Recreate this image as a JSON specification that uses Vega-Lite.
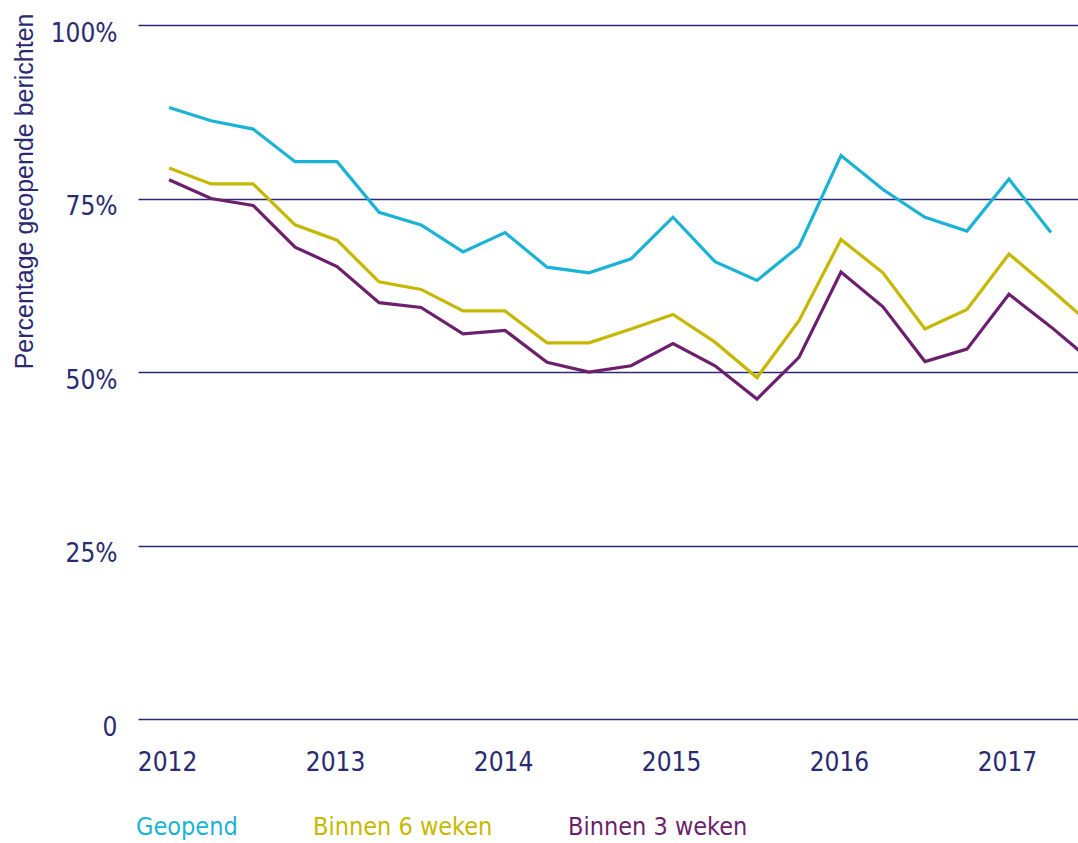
{
  "$schema": "https://vega.github.io/schema/vega-lite/v6.json",
  "width": 940,
  "height": 694,
  "autosize": {"type": "none"},
  "padding": {"left": 138, "top": 25, "right": 0, "bottom": 124},
  "background": "white",
  "config": {"view": {"stroke": null}},
  "data": {
    "values": [
      {"t": 2012.00, "Geopend": 88.1, "Binnen 6 weken": 79.4, "Binnen 3 weken": 77.7},
      {"t": 2012.25, "Geopend": 86.2, "Binnen 6 weken": 77.1, "Binnen 3 weken": 75.0},
      {"t": 2012.50, "Geopend": 85.0, "Binnen 6 weken": 77.1, "Binnen 3 weken": 74.0},
      {"t": 2012.75, "Geopend": 80.3, "Binnen 6 weken": 71.2, "Binnen 3 weken": 68.0},
      {"t": 2013.00, "Geopend": 80.3, "Binnen 6 weken": 69.0, "Binnen 3 weken": 65.2},
      {"t": 2013.25, "Geopend": 73.0, "Binnen 6 weken": 63.0, "Binnen 3 weken": 60.0},
      {"t": 2013.50, "Geopend": 71.2, "Binnen 6 weken": 61.9, "Binnen 3 weken": 59.3},
      {"t": 2013.75, "Geopend": 67.3, "Binnen 6 weken": 58.8, "Binnen 3 weken": 55.5},
      {"t": 2014.00, "Geopend": 70.1, "Binnen 6 weken": 58.8, "Binnen 3 weken": 56.0},
      {"t": 2014.25, "Geopend": 65.1, "Binnen 6 weken": 54.2, "Binnen 3 weken": 51.4},
      {"t": 2014.50, "Geopend": 64.3, "Binnen 6 weken": 54.2, "Binnen 3 weken": 50.0},
      {"t": 2014.75, "Geopend": 66.3, "Binnen 6 weken": 56.2, "Binnen 3 weken": 50.9},
      {"t": 2015.00, "Geopend": 72.3, "Binnen 6 weken": 58.3, "Binnen 3 weken": 54.1},
      {"t": 2015.25, "Geopend": 65.9, "Binnen 6 weken": 54.3, "Binnen 3 weken": 50.9},
      {"t": 2015.50, "Geopend": 63.2, "Binnen 6 weken": 49.2, "Binnen 3 weken": 46.1},
      {"t": 2015.75, "Geopend": 68.1, "Binnen 6 weken": 57.4, "Binnen 3 weken": 52.1},
      {"t": 2016.00, "Geopend": 81.2, "Binnen 6 weken": 69.1, "Binnen 3 weken": 64.4},
      {"t": 2016.25, "Geopend": 76.3, "Binnen 6 weken": 64.3, "Binnen 3 weken": 59.4},
      {"t": 2016.50, "Geopend": 72.3, "Binnen 6 weken": 56.2, "Binnen 3 weken": 51.5},
      {"t": 2016.75, "Geopend": 70.3, "Binnen 6 weken": 59.0, "Binnen 3 weken": 53.3},
      {"t": 2017.00, "Geopend": 77.8, "Binnen 6 weken": 67.0, "Binnen 3 weken": 61.2},
      {"t": 2017.25, "Geopend": 70.1, "Binnen 6 weken": 61.9, "Binnen 3 weken": 56.5},
      {"t": 2017.50, "Geopend": null, "Binnen 6 weken": 56.6, "Binnen 3 weken": 51.4}
    ]
  },
  "transform": [
    {"fold": ["Geopend", "Binnen 6 weken", "Binnen 3 weken"], "as": ["serie", "waarde"]}
  ],
  "mark": {"type": "line", "strokeWidth": 3.2, "clip": true, "strokeJoin": "miter"},
  "encoding": {
    "x": {
      "field": "t",
      "type": "quantitative",
      "scale": {"domain": [2011.815, 2017.411], "nice": false, "zero": false},
      "axis": {
        "title": null,
        "values": [2012, 2013, 2014, 2015, 2016, 2017],
        "format": "d",
        "grid": false,
        "domain": false,
        "ticks": false,
        "labelPadding": 30,
        "labelOffset": -2,
        "labelFont": "DejaVu Sans Condensed, Lato",
        "labelFontSize": 26,
        "labelColor": "#2a2a72"
      }
    },
    "y": {
      "field": "waarde",
      "type": "quantitative",
      "scale": {"domain": [0, 100], "nice": false},
      "axis": {
        "title": "Percentage geopende berichten",
        "values": [0, 25, 50, 75, 100],
        "labelExpr": "datum.value == 0 ? '0' : datum.value + '%'",
        "domain": false,
        "ticks": false,
        "grid": true,
        "gridColor": "#2a2a72",
        "gridWidth": 1.5,
        "gridOpacity": 1,
        "labelPadding": 21,
        "labelBaseline": "alphabetic",
        "labelOffset": 16,
        "labelFont": "DejaVu Sans Condensed, Lato",
        "labelFontSize": 26,
        "labelColor": "#2a2a72",
        "titleFont": "Liberation Sans",
        "titleFontSize": 25,
        "titleFontWeight": "normal",
        "titleColor": "#2a2a72",
        "titleAngle": -90,
        "titleAlign": "right",
        "titleBaseline": "top",
        "titleX": -126,
        "titleY": -12
      }
    },
    "color": {
      "field": "serie",
      "type": "nominal",
      "scale": {
        "domain": ["Geopend", "Binnen 6 weken", "Binnen 3 weken"],
        "range": ["#1ab3d6", "#c6b800", "#6b1f6d"]
      },
      "legend": {
        "title": null,
        "orient": "none",
        "legendX": -27,
        "legendY": 777,
        "direction": "horizontal",
        "symbolSize": 0,
        "symbolOpacity": 0,
        "symbolStrokeWidth": 0,
        "labelOffset": 0,
        "columnPadding": 50,
        "labelFont": "DejaVu Sans Condensed, Lato",
        "labelFontSize": 25,
        "labelBaseline": "top",
        "labelLimit": 400,
        "encode": {
          "labels": {"update": {"fill": {"scale": "color", "field": "value"}}}
        }
      }
    }
  }
}
